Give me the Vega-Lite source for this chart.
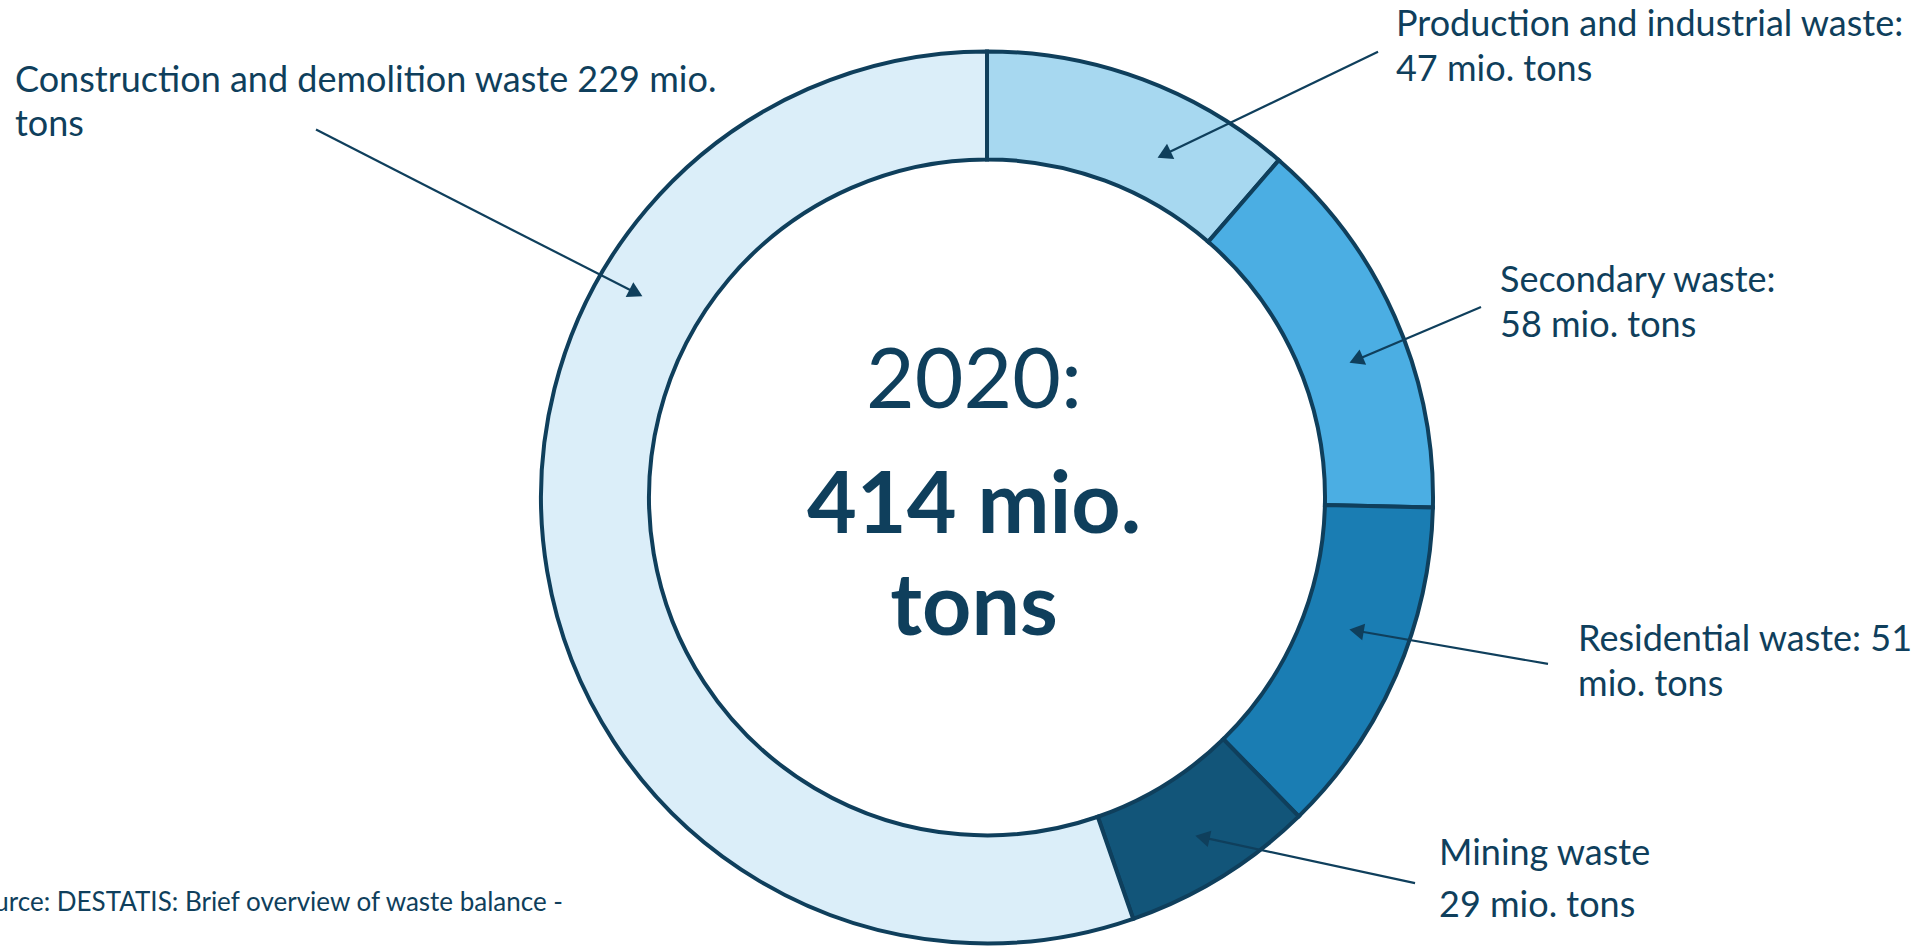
{
  "$schema": "https://vega.github.io/schema/vega-lite/v6.json",
  "width": 1928,
  "height": 950,
  "padding": 0,
  "autosize": {"type": "fit", "contains": "padding"},
  "background": "#ffffff",
  "view": {"stroke": null},
  "config": {"font": "Lato"},
  "datasets": {
    "slices": [
      {"category": "Production and industrial waste", "value": 47, "idx": 1},
      {"category": "Secondary waste", "value": 58, "idx": 2},
      {"category": "Residential waste", "value": 51, "idx": 3},
      {"category": "Mining waste", "value": 29, "idx": 4},
      {"category": "Construction and demolition waste", "value": 229, "idx": 5}
    ],
    "labels": [
      {"line": "Construction and demolition waste 229 mio.", "x": -216.96, "y": 90.85},
      {"line": "tons", "x": -216.96, "y": 81.03},
      {"line": "Production and industrial waste:", "x": 91.29, "y": 103.35},
      {"line": "47 mio. tons", "x": 91.29, "y": 93.3},
      {"line": "Secondary waste:", "x": 114.51, "y": 45.98},
      {"line": "58 mio. tons", "x": 114.51, "y": 35.94},
      {"line": "Residential waste: 51", "x": 131.92, "y": -34.38},
      {"line": "mio. tons", "x": 131.92, "y": -44.42},
      {"line": "Mining waste", "x": 100.89, "y": -82.37},
      {"line": "29 mio. tons", "x": 100.89, "y": -93.97}
    ],
    "arrows": [
      {"category": "Construction and demolition waste", "x": -149.78, "y": 82.37, "tx": -77.46, "ty": 45.31, "hx": -78.84, "hy": 46.03, "dir": 117.1},
      {"category": "Production and industrial waste", "x": 87.28, "y": 99.78, "tx": 38.62, "ty": 76.34, "hx": 40.02, "hy": 77.01, "dir": 244.3},
      {"category": "Secondary waste", "x": 110.27, "y": 42.63, "tx": 81.47, "ty": 30.36, "hx": 82.9, "hy": 30.98, "dir": 246.9},
      {"category": "Residential waste", "x": 125.22, "y": -37.28, "tx": 81.47, "ty": -29.69, "hx": 83.01, "hy": -29.96, "dir": 279.8},
      {"category": "Mining waste", "x": 95.54, "y": -86.38, "tx": 47.1, "ty": -75.89, "hx": 48.62, "hy": -76.23, "dir": 282.2}
    ],
    "center_year": [{"line": "2020:", "x": -2.9, "y": 20.09}],
    "center_total": [
      {"line": "414 mio.", "x": -2.9, "y": -8.04},
      {"line": "tons", "x": -2.9, "y": -30.8}
    ],
    "source": [{"line": "Source: DESTATIS: Brief overview of waste balance -", "x": -94.64, "y": -92.63}]
  },
  "layer": [
    {
      "data": {"name": "slices"},
      "mark": {"type": "arc", "innerRadius": 338, "outerRadius": 446, "stroke": "#0F3F5C", "strokeWidth": 4},
      "encoding": {
        "theta": {"field": "value", "type": "quantitative", "stack": true},
        "order": {"field": "idx", "type": "quantitative"},
        "color": {
          "field": "category",
          "type": "nominal",
          "legend": null,
          "scale": {
            "domain": ["Production and industrial waste", "Secondary waste", "Residential waste", "Mining waste", "Construction and demolition waste"],
            "range": ["#A7D8F0", "#4BAEE3", "#1A7DB3", "#125579", "#DBEEF9"]
          }
        },
        "x": {"datum": 0, "type": "quantitative", "axis": null, "scale": {"domain": [-220.31, 210.04], "nice": false, "zero": false}},
        "y": {"datum": 0, "type": "quantitative", "axis": null, "scale": {"domain": [-100.67, 111.38], "nice": false, "zero": false}}
      }
    },
    {
      "data": {"name": "arrows"},
      "mark": {"type": "rule", "color": "#0F3F5C", "strokeWidth": 2.2},
      "encoding": {
        "x": {"field": "x", "type": "quantitative"},
        "y": {"field": "y", "type": "quantitative"},
        "x2": {"field": "tx"},
        "y2": {"field": "ty"}
      }
    },
    {
      "data": {"name": "arrows"},
      "mark": {"type": "point", "shape": "triangle", "filled": true, "size": 280, "color": "#0F3F5C", "opacity": 1, "strokeWidth": 0},
      "encoding": {
        "x": {"field": "hx", "type": "quantitative"},
        "y": {"field": "hy", "type": "quantitative"},
        "angle": {"field": "dir", "type": "quantitative", "scale": null}
      }
    },
    {
      "data": {"name": "labels"},
      "mark": {"type": "text", "align": "left", "baseline": "alphabetic", "fontSize": 36, "color": "#0F3F5C", "font": "Lato", "clip": true},
      "encoding": {
        "x": {"field": "x", "type": "quantitative"},
        "y": {"field": "y", "type": "quantitative"},
        "text": {"field": "line"}
      }
    },
    {
      "data": {"name": "center_year"},
      "mark": {"type": "text", "align": "center", "baseline": "alphabetic", "fontSize": 84, "color": "#0F3F5C", "font": "Lato", "clip": true},
      "encoding": {
        "x": {"field": "x", "type": "quantitative"},
        "y": {"field": "y", "type": "quantitative"},
        "text": {"field": "line"}
      }
    },
    {
      "data": {"name": "center_total"},
      "mark": {"type": "text", "align": "center", "baseline": "alphabetic", "fontSize": 86, "fontWeight": "bold", "color": "#0F3F5C", "font": "Lato", "clip": true},
      "encoding": {
        "x": {"field": "x", "type": "quantitative"},
        "y": {"field": "y", "type": "quantitative"},
        "text": {"field": "line"}
      }
    },
    {
      "data": {"name": "source"},
      "mark": {"type": "text", "align": "right", "baseline": "alphabetic", "fontSize": 26, "color": "#0F3F5C", "font": "Lato", "clip": true},
      "encoding": {
        "x": {"field": "x", "type": "quantitative"},
        "y": {"field": "y", "type": "quantitative"},
        "text": {"field": "line"}
      }
    }
  ]
}
